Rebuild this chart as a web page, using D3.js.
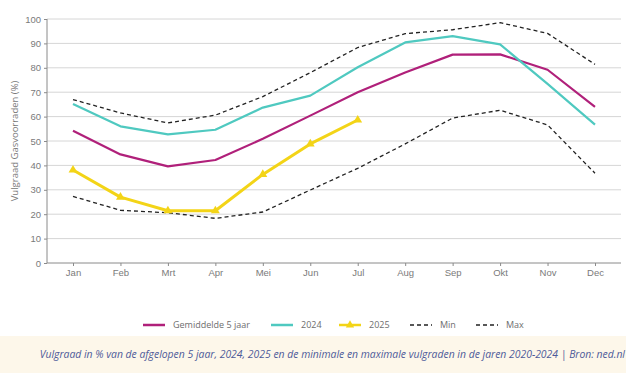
<!DOCTYPE html>
<html>
<head>
  <style>
    body {
      margin: 0;
      background: white;
      font-family: "Open Sans", sans-serif;
    }
    .grid line { stroke: #d6d6d6; }
    .axis text { fill: #7a7a7a; font-size: 9.5px; }
    .axis path, .axis line { stroke: #8a8a8a; }
  </style>
</head>
<body>
  <script src="https://d3js.org/d3.v7.min.js"></script>
  <script>
    var width = 626, height = 373;

    var months = ["Jan", "Feb", "Mrt", "Apr", "Mei", "Jun", "Jul", "Aug", "Sep", "Okt", "Nov", "Dec"];
    var yTicks = [0, 10, 20, 30, 40, 50, 60, 70, 80, 90, 100];

    var gemiddelde = [54.2, 44.5, 39.6, 42.2, 50.9, 60.4, 70, 78.1, 85.4, 85.5, 79.2, 64];
    var y2024 = [65.2, 56, 52.7, 54.6, 63.7, 68.6, 80.2, 90.4, 93, 89.6, 73.4, 56.7];
    var y2025 = [38.1, 27, 21.4, 21.4, 36.3, 48.8, 58.6];
    var minVals = [27.3, 21.6, 20.6, 18.3, 20.9, 29.9, 38.8, 48.8, 59.4, 62.6, 56.6, 36.8];
    var maxVals = [67, 61.5, 57.4, 60.6, 68.2, 78, 88.3, 94, 95.6, 98.5, 94.1, 81.4];

    var series = [
      { name: "Gemiddelde 5 jaar", values: gemiddelde, color: "#b0207a", width: 2.2, dash: null },
      { name: "2024", values: y2024, color: "#4fc9c0", width: 2.2, dash: null },
      { name: "2025", values: y2025, color: "#f3d417", width: 3, dash: null, marker: true },
      { name: "Min", values: minVals, color: "#222", width: 1.3, dash: "4,3" },
      { name: "Max", values: maxVals, color: "#222", width: 1.3, dash: "4,3" }
    ];

    var svg = d3.select("body").append("svg")
      .attr("width", width).attr("height", height);

    var plotL = 47, plotR = 621, plotT = 19, plotB = 263;

    var x = d3.scalePoint().domain(months).range([73, 595]);
    var y = d3.scaleLinear().domain([0, 100]).range([plotB, plotT]);

    // gridlines
    svg.append("g").attr("class", "grid")
      .selectAll("line").data(yTicks.slice(1)).enter().append("line")
      .attr("x1", plotL).attr("x2", plotR)
      .attr("y1", d => y(d)).attr("y2", d => y(d));

    // axes
    var yAxis = svg.append("g").attr("class", "axis")
      .attr("transform", "translate(" + plotL + ",0)")
      .call(d3.axisLeft(y).tickValues(yTicks).tickSize(3).tickSizeOuter(0));
    yAxis.select(".domain").attr("d", "M0," + plotT + "V" + plotB);

    var xAxis = svg.append("g").attr("class", "axis")
      .attr("transform", "translate(0," + plotB + ")")
      .call(d3.axisBottom(x).tickSize(3).tickPadding(3).tickSizeOuter(0));
    xAxis.select(".domain").attr("d", "M" + plotL + ",0H" + plotR);

    svg.append("text")
      .attr("transform", "translate(18," + ((plotT + plotB) / 2) + ") rotate(-90)")
      .attr("text-anchor", "middle")
      .attr("fill", "#7a7a7a")
      .style("font-size", "9.5px")
      .text("Vulgraad Gasvoorraden (%)");

    var line = d3.line()
      .x((d, i) => x(months[i]))
      .y(d => y(d));

    // dashed lines first, then the coloured ones
    var order = [3, 4, 0, 1, 2];
    order.forEach(function(k) {
      var s = series[k];
      svg.append("path")
        .datum(s.values)
        .attr("d", line)
        .attr("fill", "none")
        .attr("stroke", s.color)
        .attr("stroke-width", s.width)
        .attr("stroke-linejoin", "round")
        .attr("stroke-dasharray", s.dash);
      if (s.marker) {
        svg.selectAll(".mk").data(s.values).enter().append("path")
          .attr("d", d3.symbol().type(d3.symbolTriangle).size(34))
          .attr("transform", (d, i) => "translate(" + x(months[i]) + "," + y(d) + ")")
          .attr("fill", s.color);
      }
    });

    // legend
    var legendX = [143, 271, 339, 410, 476];
    var ly = 325;
    var lg = svg.selectAll(".legend").data(series).enter().append("g")
      .attr("transform", (d, i) => "translate(" + legendX[i] + "," + ly + ")");
    lg.append("line")
      .attr("x1", 0).attr("x2", 22)
      .attr("stroke", d => d.color)
      .attr("stroke-width", d => d.dash ? 1.6 : 2.5)
      .attr("stroke-dasharray", d => d.dash);
    lg.filter(d => d.marker).append("path")
      .attr("transform", "translate(11,0)")
      .attr("d", d3.symbol().type(d3.symbolTriangle).size(30))
      .attr("fill", d => d.color);
    lg.append("text")
      .attr("x", 30).attr("dy", "0.35em")
      .attr("fill", "#6e6e6e")
      .style("font-size", "9px")
      .text(d => d.name);

    // footer
    svg.append("rect")
      .attr("x", 0).attr("y", 336)
      .attr("width", width).attr("height", height - 336)
      .attr("fill", "#fdf7ea");
    svg.append("text")
      .attr("x", 625).attr("y", 358)
      .attr("text-anchor", "end")
      .attr("fill", "#4d5a99")
      .style("font-size", "10.4px")
      .style("font-style", "italic")
      .text("Vulgraad in % van de afgelopen 5 jaar, 2024, 2025 en de minimale en maximale vulgraden in de jaren 2020-2024 | Bron: ned.nl");
  </script>
</body>
</html>
